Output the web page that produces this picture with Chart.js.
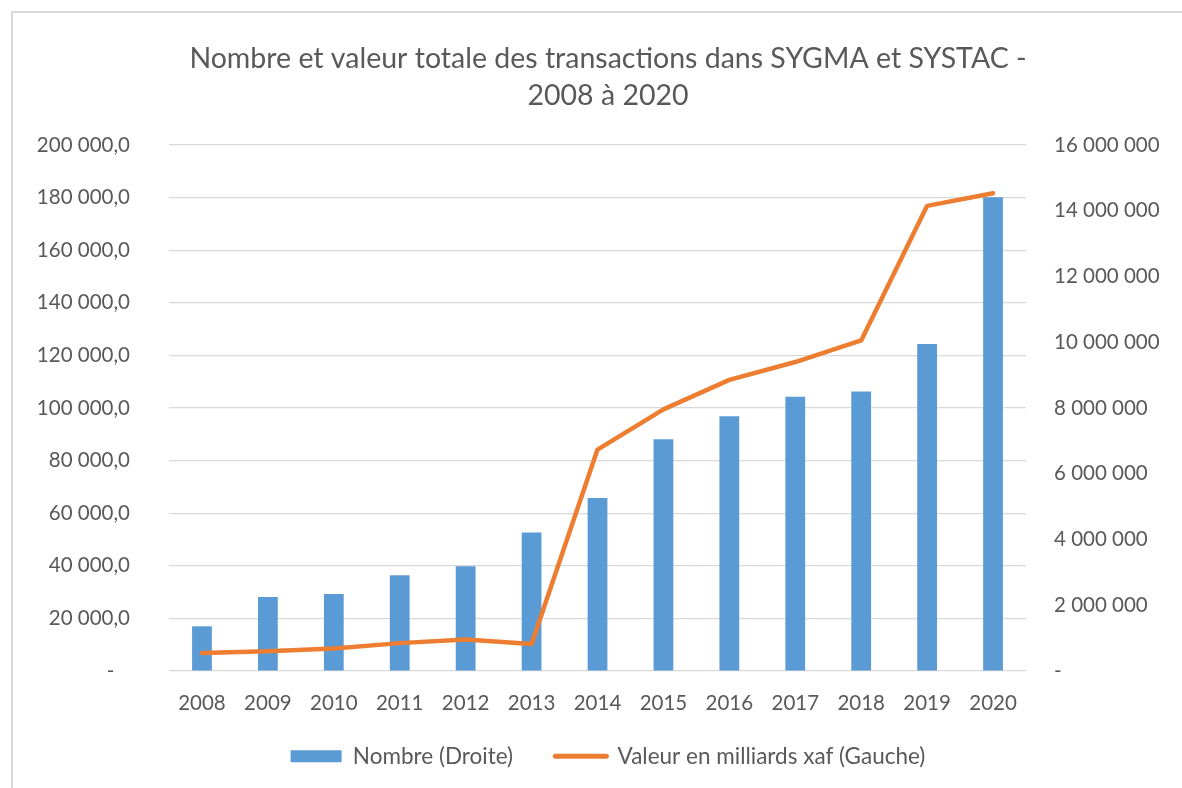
<!DOCTYPE html>
<html>
<head>
<meta charset="utf-8">
<script src="https://cdn.jsdelivr.net/npm/chart.js@4/dist/chart.umd.min.js"></script>
<style>
  html, body { margin: 0; padding: 0; background: #ffffff; }
  #frame { position: absolute; left: 11px; top: 11px; width: 1200px; height: 800px; border: 2px solid #d9d9d9; box-sizing: border-box; }
  #c { position: absolute; left: 0; top: 0; }
</style>
</head>
<body>
<div id="frame"></div>
<canvas id="c" width="1182" height="788"></canvas>
<script>
// ---- data ----
const years = ['2008','2009','2010','2011','2012','2013','2014','2015','2016','2017','2018','2019','2020'];
// Nombre (Droite) - right axis
const nombre = [1360000, 2250000, 2340000, 2910000, 3190000, 4210000, 5260000, 7050000, 7750000, 8340000, 8500000, 9950000, 14410000];
// Valeur en milliards xaf (Gauche) - left axis
const valeur = [6800, 7470, 8600, 10600, 11960, 10300, 84200, 99500, 110700, 117500, 125700, 176900, 181700];
const titleLines = ['Nombre et valeur totale des transactions dans SYGMA et SYSTAC -', '2008 à 2020'];
const seriesNames = ['Nombre (Droite)', 'Valeur en milliards xaf (Gauche)'];
const leftMax = 200000, leftStep = 20000;
const rightMax = 16000000, rightStep = 2000000;

const TXT = '#595959';
Chart.defaults.font.family = 'Lato, "Open Sans", sans-serif';
Chart.defaults.color = TXT;

function groupThousands(v) {
  return Math.round(v).toString().replace(/\B(?=(\d{3})+(?!\d))/g, ' ');
}

new Chart(document.getElementById('c'), {
  type: 'bar',
  data: {
    labels: years,
    datasets: [
      {
        type: 'bar',
        label: seriesNames[0],
        data: nombre,
        yAxisID: 'y1',
        backgroundColor: '#5B9BD5',
        borderWidth: 0,
        barPercentage: 0.3,
        categoryPercentage: 1.0,
        order: 1
      },
      {
        type: 'line',
        label: seriesNames[1],
        data: valeur,
        yAxisID: 'y',
        borderColor: '#ED7D31',
        backgroundColor: '#ED7D31',
        borderWidth: 4.5,
        pointRadius: 0,
        tension: 0,
        borderJoinStyle: 'round',
        borderCapStyle: 'round',
        order: 0
      }
    ]
  },
  options: {
    responsive: false,
    animation: false,
    devicePixelRatio: 1,
    layout: { padding: { left: 34, right: 0, top: 0, bottom: 10.5 } },
    plugins: {
      tooltip: { enabled: false },
      title: {
        display: true,
        text: titleLines,
        color: TXT,
        font: { size: 28.5, weight: 'normal', lineHeight: 1.3 },
        padding: { top: 40, bottom: 31 }
      },
      legend: {
        position: 'bottom',
        labels: {
          color: TXT,
          font: { size: 22.5 },
          usePointStyle: true,
          pointStyleWidth: 51,
          boxHeight: 12,
          padding: 25,
          sort: (a, b) => a.datasetIndex - b.datasetIndex,
          generateLabels: (chart) => {
            const items = Chart.defaults.plugins.legend.labels.generateLabels(chart);
            items.forEach(it => {
              if (it.datasetIndex === 0) { it.pointStyle = 'rect'; it.lineWidth = 0; it.text = it.text + '   '; }
              else { it.pointStyle = 'line'; it.lineWidth = 5; it.lineCap = 'round'; }
            });
            return items;
          }
        }
      }
    },
    scales: {
      x: {
        grid: { display: false },
        border: { display: false },
        ticks: { color: TXT, font: { size: 20.5 }, padding: 12, maxRotation: 0, autoSkip: false },
        afterFit: (s) => { s.height = 49; }
      },
      y: {
        position: 'left',
        min: 0, max: leftMax,
        grid: { color: '#d9d9d9', lineWidth: 1.3, drawTicks: false },
        border: { display: false },
        ticks: {
          stepSize: leftStep,
          color: TXT,
          font: { size: 20.5 },
          padding: 39,
          callback: (v) => v === 0 ? '-   ' : groupThousands(v) + ',0'
        },
        afterFit: (s) => { s.width = 135; }
      },
      y1: {
        position: 'right',
        min: 0, max: rightMax,
        grid: { drawOnChartArea: false, drawTicks: false },
        border: { display: false },
        ticks: {
          stepSize: rightStep,
          color: TXT,
          font: { size: 20.5 },
          padding: 28,
          callback: (v) => v === 0 ? '-' : groupThousands(v)
        },
        afterFit: (s) => { s.width = 156; }
      }
    }
  }
});
</script>
</body>
</html>
